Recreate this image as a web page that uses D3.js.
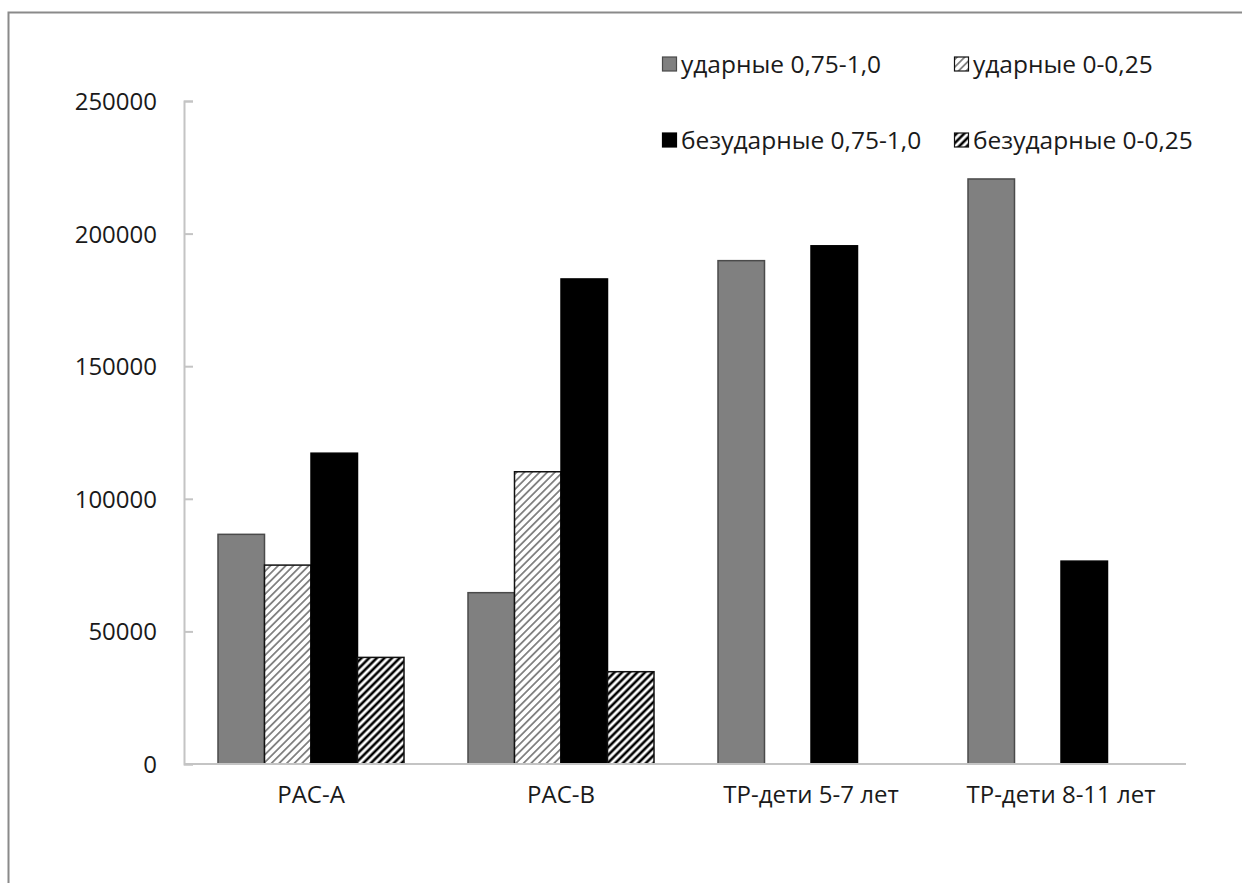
<!DOCTYPE html>
<html>
<head>
<meta charset="utf-8">
<script src="https://cdn.jsdelivr.net/npm/d3@7"></script>
<style>
  html, body { margin: 0; padding: 0; background: #fff; }
  svg { display: block; }
  text { font-family: 'Open Sans', sans-serif; fill: #1a1a1a; }
</style>
</head>
<body>
<div id="chart"></div>
<script>
const categories = ['РАС-А', 'РАС-В', 'ТР-дети 5-7 лет', 'ТР-дети 8-11 лет'];
const seriesNames = [
  'ударные 0,75-1,0',
  'ударные 0-0,25',
  'безударные 0,75-1,0',
  'безударные 0-0,25'
];
const stressedHigh = [86600, 64600, 189800, 220600];
const stressedLow = [75000, 110200, null, null];
const unstressedHigh = [117200, 182900, 195400, 76500];
const unstressedLow = [40200, 34800, null, null];
const yTicks = [0, 50000, 100000, 150000, 200000, 250000];

const seriesValues = [stressedHigh, stressedLow, unstressedHigh, unstressedLow];
const fills = ['#808080', 'url(#hatch-light)', '#000', 'url(#hatch-dark)'];
const strokes = ['#4a4a4a', '#111', '#000', '#111'];

const width = 1242;
const height = 883;
const plot = { left: 184, right: 1186, top: 101, bottom: 764 };

const svg = d3
  .select('#chart')
  .append('svg')
  .attr('width', width)
  .attr('height', height);

// hatch patterns for the 0-0,25 series
const defs = svg.append('defs');
function addHatch(id, color, lineWidth) {
  const p = defs
    .append('pattern')
    .attr('id', id)
    .attr('patternUnits', 'userSpaceOnUse')
    .attr('width', 5.4)
    .attr('height', 5.4)
    .attr('patternTransform', 'rotate(45)');
  p.append('rect').attr('width', 5.4).attr('height', 5.4).attr('fill', '#fff');
  p.append('line')
    .attr('x1', 2.7)
    .attr('x2', 2.7)
    .attr('y1', 0)
    .attr('y2', 5.4)
    .attr('stroke', color)
    .attr('stroke-width', lineWidth);
}
addHatch('hatch-light', '#7a7a7a', 1.7);
addHatch('hatch-dark', '#000', 2.6);

// outer frame (runs off the right and bottom edges)
svg
  .append('rect')
  .attr('x', 8.5)
  .attr('y', 12.5)
  .attr('width', 1300)
  .attr('height', 1000)
  .attr('fill', 'none')
  .attr('stroke', '#8a8a8a')
  .attr('stroke-width', 2);

const x = d3.scaleBand().domain(categories).range([plot.left + 2, plot.right]);
const xInner = d3
  .scaleBand()
  .domain(d3.range(seriesNames.length))
  .range([32, x.bandwidth() - 32]);
const y = d3.scaleLinear().domain([0, 250000]).range([plot.bottom, plot.top]);

// y axis: ticks point inwards, labels on the left
const yAxis = d3
  .axisRight(y)
  .tickValues(yTicks)
  .tickSize(9)
  .tickFormat(d => d.toString());

const yg = svg
  .append('g')
  .attr('class', 'y axis')
  .attr('transform', `translate(${plot.left}, 0)`)
  .call(yAxis);

yg.select('.domain').attr('stroke', '#c4c4c4').attr('stroke-width', 2);
yg.selectAll('.tick line').attr('stroke', '#c4c4c4').attr('stroke-width', 2);
yg.selectAll('.tick text')
  .attr('x', -27)
  .attr('text-anchor', 'end')
  .attr('dy', '0.35em')
  .style('font-size', '24px');

// bars
const barData = [];
categories.forEach((cat, i) => {
  seriesValues.forEach((vals, s) => {
    if (vals[i] != null) barData.push({ cat, s, value: vals[i] });
  });
});

svg
  .append('g')
  .selectAll('rect')
  .data(barData)
  .enter()
  .append('rect')
  .attr('x', d => x(d.cat) + xInner(d.s))
  .attr('y', d => y(d.value))
  .attr('width', xInner.bandwidth())
  .attr('height', d => y(0) - y(d.value))
  .attr('fill', d => fills[d.s])
  .attr('stroke', d => strokes[d.s])
  .attr('stroke-width', 1.5);

// x axis baseline and category labels
const xAxis = d3.axisBottom(x).tickSize(0).tickPadding(22);
const xg = svg
  .append('g')
  .attr('class', 'x axis')
  .attr('transform', `translate(0, ${plot.bottom})`)
  .call(xAxis);

xg.select('.domain')
  .attr('d', `M${plot.left},0H${plot.right}`)
  .attr('stroke', '#c4c4c4')
  .attr('stroke-width', 2);
xg.selectAll('.tick text').style('font-size', '24px');

// legend, two columns by two rows
const legendPos = [
  [662, 64],
  [954, 64],
  [662, 140],
  [954, 140]
];
const legend = svg
  .append('g')
  .selectAll('g')
  .data(seriesNames)
  .enter()
  .append('g')
  .attr('transform', (d, i) => `translate(${legendPos[i][0]}, ${legendPos[i][1]})`);

legend
  .append('rect')
  .attr('x', 0.5)
  .attr('y', -7)
  .attr('width', 14)
  .attr('height', 14)
  .attr('fill', (d, i) => fills[i])
  .attr('stroke', (d, i) => strokes[i])
  .attr('stroke-width', 1.2);

legend
  .append('text')
  .attr('x', 19)
  .attr('dy', '0.35em')
  .style('font-size', '24.5px')
  .text(d => d);
</script>
</body>
</html>
